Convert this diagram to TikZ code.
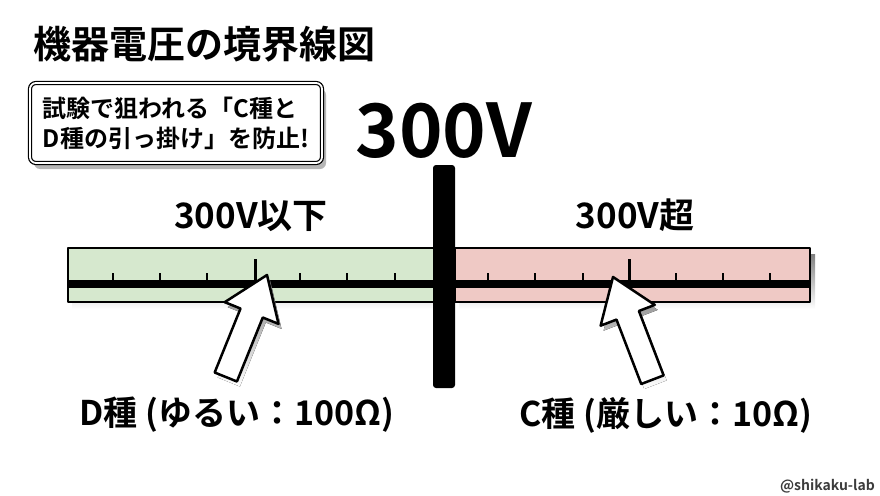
\documentclass[tikz,border=0pt]{standalone}
\usepackage{fontspec}
\setmainfont{Noto Sans CJK JP}[BoldFont={Noto Sans CJK JP Bold}]
\usetikzlibrary{shadows}

\definecolor{lowgreen}{RGB}{214,232,206}
\definecolor{highred}{RGB}{239,201,197}
\definecolor{shade}{RGB}{182,182,182}
\definecolor{credit}{RGB}{60,60,60}

\tikzset{
  titletext/.style={font=\bfseries\fontsize{38}{44}\selectfont, inner sep=0pt},
  notebox/.style={draw, line width=1.2pt, double, double distance=1.8pt, rounded corners=6pt,
    fill=white, minimum width=292pt, minimum height=80pt, align=left,
    font=\bfseries\fontsize{24}{30}\selectfont,
    drop shadow={shadow xshift=4pt, shadow yshift=-6pt, fill=shade, opacity=1}},
  bigvolt/.style={font=\bfseries\fontsize{74}{80}\selectfont, inner sep=0pt},
  bandtext/.style={font=\bfseries\fontsize{35}{40}\selectfont, inner sep=0pt},
  restext/.style={font=\bfseries\fontsize{34}{40}\selectfont, inner sep=0pt},
  bandline/.style={line width=2.5pt, line join=round},
  pointerline/.style={line width=2.5pt, line join=round, fill=white}
}

% tip x, tip y, angle
\newcommand{\drawpointer}[3]{
  \begin{scope}[shift={(#1+3,#2+5)}, rotate=#3]
    \fill[shade] (0,0) -- (-41,29) -- (-41,12) -- (-110,12) -- (-110,-12) -- (-41,-12) -- (-41,-29) -- cycle;
  \end{scope}
  \begin{scope}[shift={(#1,#2)}, rotate=#3]
    \draw[pointerline] (0,0) -- (-41,29) -- (-41,12) -- (-110,12) -- (-110,-12) -- (-41,-12) -- (-41,-29) -- cycle;
  \end{scope}
}

\begin{document}
\begin{tikzpicture}[x=1pt, y=-1pt]

\fill[white] (0,0) rectangle (880,495);
\useasboundingbox (0,0) rectangle (880,495);

%Draw Heading
\node[titletext, anchor=base west] (title) at (33,59) {機器電圧の境界線図};
\node[notebox] (note) at (176,123) {試験で狙われる「C種と\\D種の引っ掛け」を防止!};
\node[bigvolt] (volt) at (444,131) {300V};

%Draw Bands
\fill[shade] (72,254) rectangle (440,309);
\fill[shade] (459,254) rectangle (815,309);
\draw[bandline, fill=lowgreen] (68,248) rectangle (436,302);
\draw[bandline, fill=highred] (455,248) rectangle (810,302);

\node[bandtext, anchor=base] (lowtext) at (251,228) {300V以下};
\node[bandtext, anchor=base] (hightext) at (635,228) {300V超};

%Draw Scale
\draw[line width=8pt] (68,284) -- (810,284);
\foreach \pos in {113, 160, 207, 300, 347, 395, 488, 535, 583, 676, 723, 770} {
\draw[line width=2.5pt] (\pos, 273) -- (\pos, 284);
}
\foreach \pos in {255, 629} {
\draw[line width=3pt] (\pos, 259) -- (\pos, 284);
}

%Draw Border
\fill[rounded corners=3pt] (433,165) rectangle (455,388);

%Draw Pointers
\drawpointer{267}{275}{68}
\drawpointer{613}{277}{111}

\node[restext, anchor=base] (lowres) at (237,425) {D種 (ゆるい：100Ω)};
\node[restext, anchor=base] (highres) at (666,426) {C種 (厳しい：10Ω)};

\node[font=\bfseries\fontsize{14}{16}\selectfont, text=credit, inner sep=0pt, anchor=base east] (credit) at (875,490) {@shikaku-lab};

\end{tikzpicture}
\end{document}
